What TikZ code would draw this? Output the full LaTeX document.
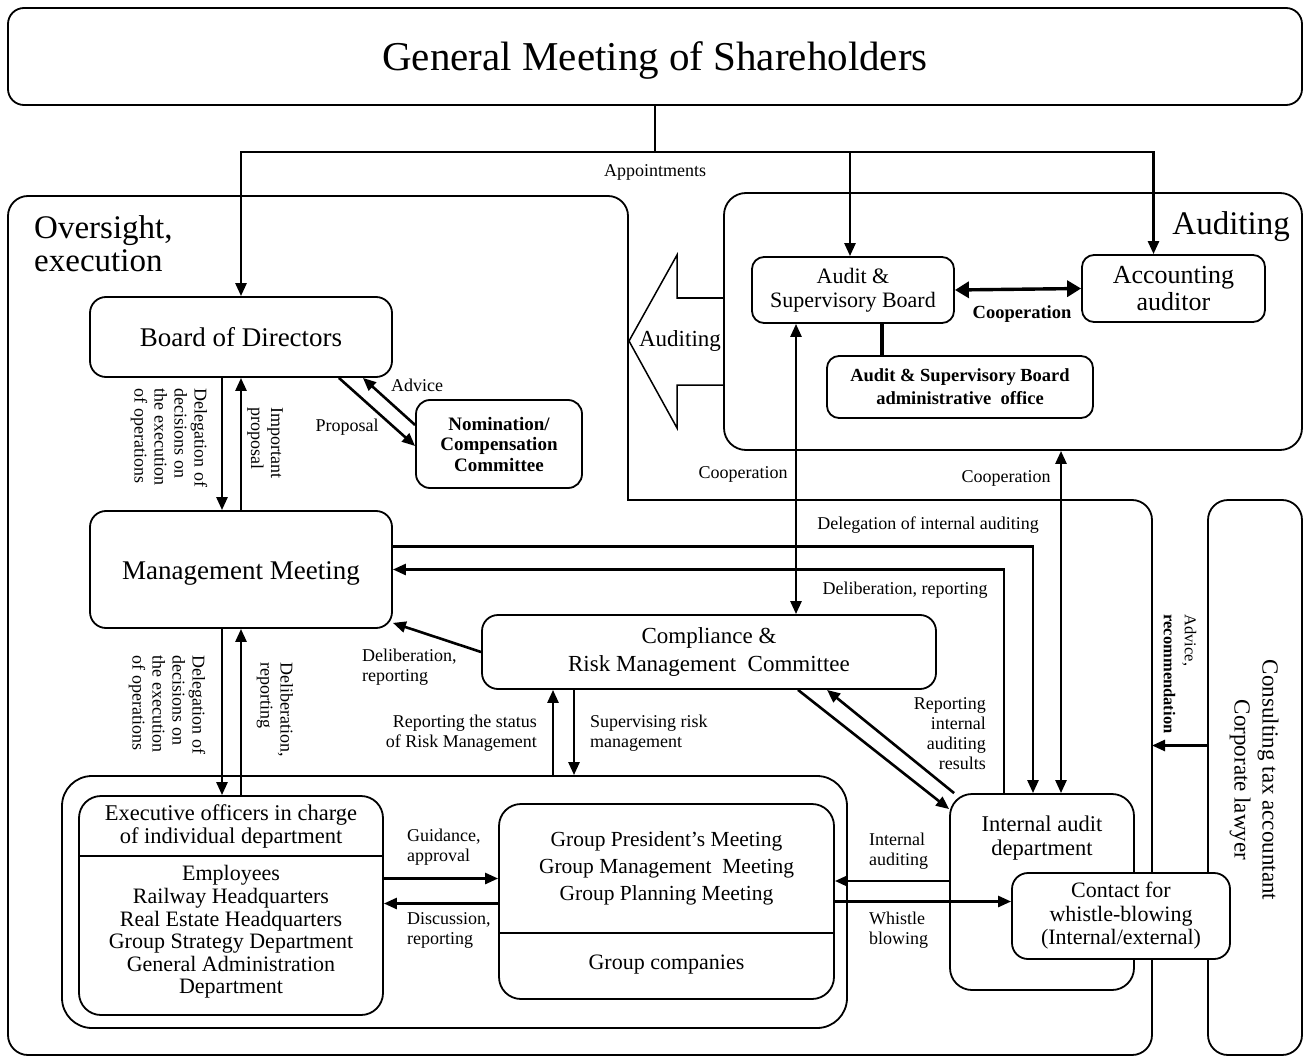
\documentclass[tikz,border=0pt]{standalone}
\usepackage{fontspec}
\setmainfont{Liberation Serif}
\usetikzlibrary{arrows.meta}

\begin{document}
\begin{tikzpicture}[x=1pt,y=-1pt,
    box/.style={draw,line width=1.8pt,rounded corners=16pt,fill=white,align=center,inner sep=0pt},
    txt/.style={align=center,inner sep=0pt},
    lbl/.style={align=center,inner sep=0pt,font=\fontsize{18}{20}\selectfont},
    link/.style={line width=2.6pt},
    arr/.style={link,-{Triangle[length=13pt,width=11pt]}},
    dblarr/.style={link,{Triangle[length=13pt,width=11pt]}-{Triangle[length=13pt,width=11pt]}}]
\useasboundingbox (0,0) rectangle (1306,1059);

% frames
\draw[line width=1.8pt,rounded corners=20pt,line cap=rect] (628,500) -- (628,196) -- (8,196) -- (8,1055) -- (1152,1055) -- (1152,500) -- (628,500);
\coordinate (ovEdge) at (1152,500);
\node[txt,font=\fontsize{33}{33}\selectfont,anchor=west,align=left] (ovTitle) at (34,244) {Oversight,\\execution};
\node[box,minimum width=578,minimum height=257,rounded corners=22pt] (audbox) at (1013,321.5) {};
\node[txt,font=\fontsize{33}{33}\selectfont,anchor=east] (audTitle) at (1290,227) {Auditing};
\draw[line width=1.5pt] (724,298) -- (677,298) -- (677,255) -- (629,341) -- (677,428) -- (677,385) -- (724,385);
\node[txt,font=\fontsize{23}{25}\selectfont] (audArrow) at (680,341) {Auditing};

% boxes
\node[box,minimum width=1294,minimum height=97] (gms) at (655,56.5) {};
\node[txt,font=\fontsize{41}{46}\selectfont] (gmsText) at (655,60) {General Meeting of Shareholders};
\node[box,minimum width=302,minimum height=80,font=\fontsize{27}{30}\selectfont] (bod) at (241,337) {Board of Directors};
\node[box,minimum width=166,minimum height=88,rounded corners=14pt,font=\bfseries\fontsize{19}{20.5}\selectfont] (nom) at (499,444) {Nomination/\\Compensation\\Committee};
\node[box,minimum width=302,minimum height=117] (mm) at (241,569.5) {};
\node[txt,font=\fontsize{27}{30}\selectfont] (mmText) at (241,573) {Management Meeting};
\node[box,minimum width=202,minimum height=66,rounded corners=12pt,font=\fontsize{22}{24}\selectfont] (asb) at (853,290) {Audit \&\\Supervisory Board};
\node[box,minimum width=183,minimum height=67,rounded corners=12pt,font=\fontsize{26}{27}\selectfont] (acc) at (1173.5,288.5) {Accounting\\auditor};
\node[box,minimum width=266,minimum height=62,rounded corners=12pt,font=\bfseries\fontsize{18.5}{23}\selectfont] (adm) at (960,387) {Audit \& Supervisory Board\\administrative\ \ office};
\node[box,minimum width=454,minimum height=74,font=\fontsize{23}{28}\selectfont] (crm) at (709,652) {Compliance \&\\Risk Management\ \ Committee};
\node[box,minimum width=785,minimum height=252,rounded corners=30pt] (grpout) at (454.5,902) {};
\node[box,minimum width=304,minimum height=219,rounded corners=22pt] (exec) at (231,905.5) {};
\node[txt,font=\fontsize{22.5}{23}\selectfont] (execHead) at (231,826) {Executive officers in charge\\of individual department};
\draw[line width=1.8pt] (exec.west |- 0,856) -- (exec.east |- 0,856);
\node[txt,font=\fontsize{22}{22.6}\selectfont] (execStaff) at (231,932) {Employees\\Railway Headquarters\\Real Estate Headquarters\\Group Strategy Department\\General Administration\\Department};
\node[box,minimum width=335,minimum height=195,rounded corners=22pt] (grp) at (666.5,901.5) {};
\node[txt,font=\fontsize{21.5}{27}\selectfont] (grpMeet) at (666.5,868) {Group President’s Meeting\\Group Management\ \ Meeting\\Group Planning Meeting};
\draw[line width=1.8pt] (grp.west |- 0,933) -- (grp.east |- 0,933);
\node[txt,font=\fontsize{22}{24}\selectfont] (grpCo) at (666.5,965) {Group companies};
\node[box,minimum width=184,minimum height=196,rounded corners=22pt] (iad) at (1042,892) {};
\node[txt,font=\fontsize{22.5}{24}\selectfont] (iadText) at (1042,838) {Internal audit\\department};
\node[box,minimum width=94,minimum height=555,rounded corners=20pt] (cons) at (1255,777.5) {};
\node[txt,rotate=-90,font=\fontsize{23}{28}\selectfont] (consText) at (1254,780) {Consulting tax accountant\\Corporate lawyer};
\node[box,minimum width=218,minimum height=86,font=\fontsize{22}{23.5}\selectfont] (wb) at (1121,916) {Contact for\\whistle-blowing\\(Internal/external)};

% appointments
\coordinate (split) at (655,152);
\draw[link] (gms.south) -- (split);
\draw[arr] (split) -| (bod.north);
\draw[arr] (split) -| ([xshift=-3pt]asb.north);
\draw[arr] (split) -| ([xshift=-20pt]acc.north);
\node[lbl] (appt) at (655,172) {Appointments};

% board and nomination committee
\draw[arr] ([xshift=-54pt]bod.south east) -- ([yshift=-2pt]nom.west);
\draw[arr] ([yshift=19pt]nom.west) -- ([xshift=-30pt]bod.south east);
\node[lbl] (advLbl) at (417,385) {Advice};
\node[lbl] (propLbl) at (347,427) {Proposal};

% board and management meeting
\draw[arr] ([xshift=-19pt]bod.south) -- ([xshift=-19pt]mm.north);
\draw[arr] (mm.north) -- (bod.south);
\node[lbl,rotate=-90,align=left] (delegBod) at (169,438) {Delegation of\\decisions on\\the execution\\of operations};
\node[lbl,rotate=-90,align=left] (propBod) at (265,443) {Important\\proposal};

% auditing
\draw[link,line width=3.4pt,{Triangle[length=14pt,width=16pt]}-{Triangle[length=14pt,width=16pt]}] (asb.east) -- (acc.west);
\node[txt,font=\bfseries\fontsize{18.5}{20}\selectfont] (coopBold) at (1022,314) {Cooperation};
\draw[link,line width=3.4pt] ([xshift=29pt]asb.south) -- ([xshift=29pt]asb.south |- adm.north);
\draw[dblarr] ([xshift=-57pt]asb.south) -- ([xshift=-57pt]asb.south |- crm.north);
\node[lbl] (coopA) at (743,474) {Cooperation};
\draw[dblarr] ([xshift=19pt]iad.north) -- ([xshift=19pt]iad.north |- audbox.south);
\node[lbl] (coopB) at (1006,478) {Cooperation};

% management meeting and internal audit
\draw[arr] ([yshift=23pt]mm.east) -| ([xshift=-9pt]iad.north);
\draw[arr] ([xshift=-38pt]iad.north) |- (mm.east);
\node[lbl] (delegIA) at (928,525) {Delegation of internal auditing};
\node[lbl] (delibIA) at (905,590) {Deliberation, reporting};

% compliance committee
\draw[arr] (crm.west) -- ([yshift=6pt]mm.south east);
\node[lbl,align=left,anchor=west] (delibCrm) at (362,667) {Deliberation,\\reporting};
\draw[arr] ([xshift=-156pt]crm.south |- grpout.north) -- ([xshift=-156pt]crm.south);
\draw[arr] ([xshift=-135pt]crm.south) -- ([xshift=-135pt]crm.south |- grpout.north);
\node[lbl,align=right,anchor=east] (riskRep) at (537,733) {Reporting the status\\of Risk Management};
\node[lbl,align=left,anchor=west] (riskSup) at (590,733) {Supervising risk\\management};

% management meeting and executives
\draw[arr] ([xshift=-19pt]mm.south) -- ([xshift=-19pt]mm.south |- exec.north);
\draw[arr] (mm.south |- exec.north) -- (mm.south);
\node[lbl,rotate=-90,align=left] (delegMM) at (167,705) {Delegation of\\decisions on\\the execution\\of operations};
\node[lbl,rotate=-90,align=left] (delibMM) at (275,710) {Deliberation,\\reporting};

% executives and group
\draw[arr] ([yshift=27pt]exec.east) -- ([yshift=27pt]exec.east -| grp.west);
\draw[arr] ([yshift=2pt]exec.east -| grp.west) -- ([yshift=2pt]exec.east);
\node[lbl,align=left,anchor=west] (guid) at (407,847) {Guidance,\\approval};
\node[lbl,align=left,anchor=west] (disc) at (407,930) {Discussion,\\reporting};

% internal audit
\draw[arr] ([yshift=11pt]iad.west) -- ([yshift=11pt]iad.west -| grp.east);
\draw[arr] (grp.east) -- (grp.east -| wb.west);
\node[lbl,align=left,anchor=west] (iaLbl) at (869,851) {Internal\\auditing};
\node[lbl,align=left,anchor=west] (wbLbl) at (869,930) {Whistle\\blowing};
\draw[arr] ([xshift=89pt]crm.south) -- ([yshift=-16pt]iad.north west);
\draw[arr] ([xshift=5pt]iad.north west) -- ([xshift=118pt]crm.south);
\node[lbl,align=right,anchor=east] (repIA) at (986,734) {Reporting\\internal\\auditing\\results};

% outside advisers
\draw[arr] ([yshift=32pt]cons.west) -- ([yshift=32pt]cons.west -| ovEdge);
\node[txt,rotate=-90,align=left,font=\fontsize{16.5}{21}\selectfont] (advRec) at (1180,674) {Advice,\\\textbf{recommendation}};
\end{tikzpicture}
\end{document}
